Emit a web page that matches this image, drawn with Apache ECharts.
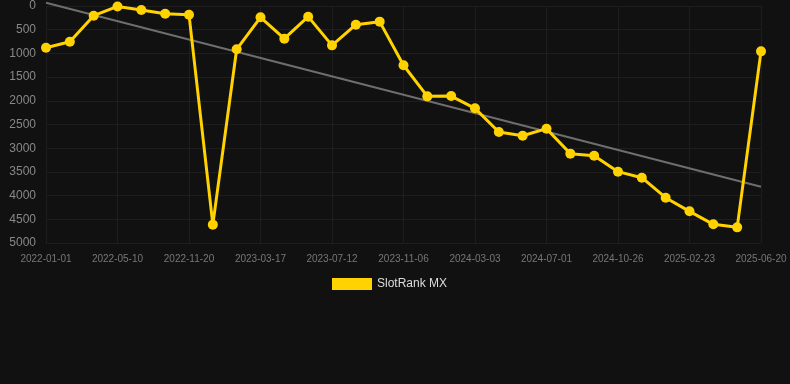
<!DOCTYPE html>
<html>
<head>
<meta charset="utf-8">
<script src="https://cdn.jsdelivr.net/npm/echarts@6/dist/echarts.min.js"></script>
<style>
html,body{margin:0;padding:0;background:#111111;}
#chart{width:790px;height:384px;}
</style>
</head>
<body>
<div id="chart"></div>
<script>
const categories = ['2022-01-01','2022-02-12','2022-03-27','2022-05-10','2022-07-14','2022-09-17','2022-11-20','2022-12-29','2023-02-06','2023-03-17','2023-04-25','2023-06-03','2023-07-12','2023-08-20','2023-09-28','2023-11-06','2023-12-15','2024-01-24','2024-03-03','2024-04-12','2024-05-22','2024-07-01','2024-08-09','2024-09-17','2024-10-26','2024-12-04','2025-01-14','2025-02-23','2025-04-01','2025-05-11','2025-06-20'];
const rankValues = [880,753,204,10,84,162,183,4613,914,239,689,225,830,394,330,1250,1906,1900,2159,2658,2736,2588,3115,3158,3495,3622,4044,4332,4606,4670,957];
const trendValues = [-70,null,null,null,null,null,null,null,null,null,null,null,null,null,null,null,null,null,null,null,null,null,null,null,null,null,null,null,null,null,3812];
const seriesName = 'SlotRank MX';

const chart = echarts.init(document.getElementById('chart'));
chart.setOption({
  backgroundColor: '#111111',
  animation: false,
  grid: {left: 46, right: 29, top: 6, bottom: 141},
  legend: {
    data: [{name: seriesName, icon: 'rect'}],
    top: 273,
    left: 327,
    itemWidth: 40,
    itemHeight: 12,
    itemGap: 6,
    textStyle: {color: '#dddddd', fontSize: 12, fontFamily: 'Liberation Sans, Arial, sans-serif'}
  },
  xAxis: {
    type: 'category',
    data: categories,
    boundaryGap: false,
    axisLine: {show: false},
    axisTick: {show: false},
    axisLabel: {interval: 2, color: '#777777', fontSize: 10, margin: 11, fontFamily: 'Liberation Sans, Arial, sans-serif'},
    splitLine: {show: true, interval: 2, lineStyle: {color: '#1e1e1e', width: 1}}
  },
  yAxis: {
    type: 'value',
    inverse: true,
    min: 0,
    max: 5000,
    interval: 500,
    axisLine: {show: false},
    axisTick: {show: false},
    axisLabel: {color: '#888888', fontSize: 12, margin: 10, fontFamily: 'Liberation Sans, Arial, sans-serif', formatter: function (v) { return String(v); }},
    splitLine: {show: true, lineStyle: {color: '#1e1e1e', width: 1}}
  },
  series: [
    {
      name: seriesName,
      type: 'line',
      data: rankValues,
      symbol: 'circle',
      symbolSize: 10,
      lineStyle: {color: '#ffd200', width: 3},
      itemStyle: {color: '#ffd200'},
      z: 3
    },
    {
      name: 'trend',
      type: 'line',
      data: trendValues,
      connectNulls: true,
      clip: false,
      symbol: 'none',
      lineStyle: {color: '#6e6e6e', width: 2},
      itemStyle: {color: '#6e6e6e'},
      z: 2
    }
  ]
});
</script>
</body>
</html>
